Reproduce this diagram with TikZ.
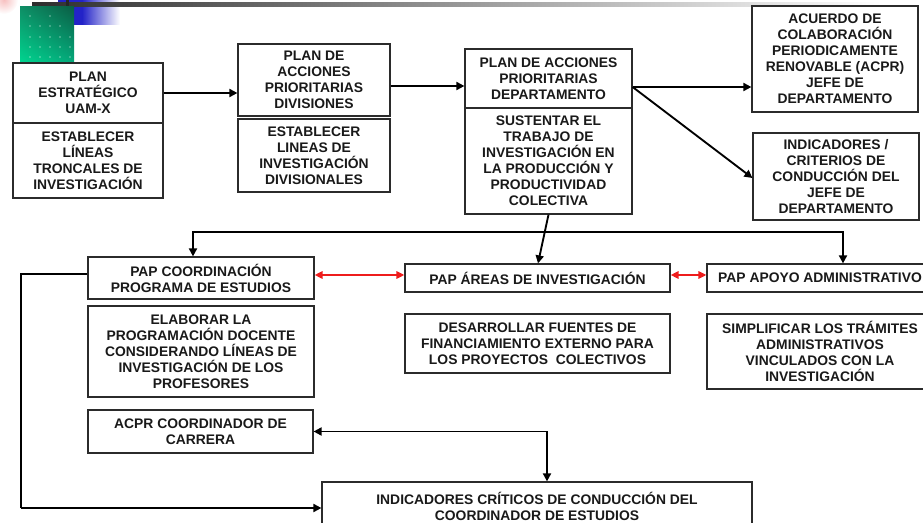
\documentclass[tikz,border=0pt]{standalone}
\usepackage{fontspec}
\setmainfont{Liberation Sans}
\usetikzlibrary{arrows.meta,calc,shadings}
\def\pxu{0.75pt}
\definecolor{bord}{HTML}{2B2B2B}
\definecolor{redarr}{HTML}{EE1C1C}
\definecolor{gbright}{HTML}{00D48F}
\definecolor{gdark}{HTML}{0A5E45}
\definecolor{gmidA}{HTML}{0E8F66}
\definecolor{gmidB}{HTML}{05A87A}
\definecolor{bluebk}{HTML}{2323C8}
\definecolor{pinkbk}{HTML}{F7C0C0}
\begin{document}
\begin{tikzpicture}[x=0.75pt,y=-0.75pt,
  box/.style={draw=bord, line width=0.9pt, inner sep=0pt, align=center,
    font=\fontsize{10.4}{12}\selectfont\bfseries, text=black!90},
  sz/.style 2 args={minimum width=#1*\pxu, minimum height=#2*\pxu},
  arr/.style={line width=1.4pt, -{Triangle[length=6pt,width=6pt]}},
  arrtwo/.style={line width=1.4pt, {Triangle[length=6pt,width=6pt]}-{Triangle[length=6pt,width=6pt]}},
  redarrow/.style={draw=redarr, line width=1.4pt,
    {Triangle[length=6pt,width=5.5pt]}-{Triangle[length=6pt,width=5.5pt]}},
  thinline/.style={line width=0.9pt},
  thickline/.style={line width=1.4pt, -{Triangle[length=6pt,width=6pt]}}
]
\useasboundingbox (0,0) rectangle (923,523);
\clip (0,0) rectangle (923,523);

% ---------- banner ----------
\shade[inner color=pinkbk, outer color=white] (4,0) circle (14);
\fill[bluebk] (58,0) rectangle (82,25);
\shade[left color=bluebk, right color=white] (82,0) rectangle (120,25);
\shade[left color=black!82, middle color=black!50, right color=white] (32,2.5) rectangle (880,6.5);
\fill[black!85] (66,0) rectangle (68.5,8);
\shade[lower left=gbright, upper right=gdark, upper left=gmidA, lower right=gmidB] (20,7) rectangle (74,62);
\foreach \xx in {30,50} \fill[white] (\xx,16) circle (0.7);
\foreach \xx in {30,40,50,60} \fill[white] (\xx,26) circle (0.7);
\foreach \yy in {37,47,57} \foreach \xx in {30,40,50,60,70} \fill[white] (\xx,\yy) circle (0.7);

% ---------- top row ----------
\node[box, sz={150}{60}] (b1t) at (88,93) {PLAN\\ESTRATÉGICO\\UAM-X};
\node[box, sz={150}{75}] (b1b) at (88,160.5) {ESTABLECER\\LÍNEAS\\TRONCALES DE\\INVESTIGACIÓN};
\node[box, sz={152}{72}] (b2t) at (314,80) {PLAN DE\\ACCIONES\\PRIORITARIAS\\DIVISIONES};
\node[box, sz={152}{73}] (b2b) at (314,155.5) {ESTABLECER\\LINEAS DE\\INVESTIGACIÓN\\DIVISIONALES};
\node[box, sz={167}{59}] (b3t) at (548.5,78.5) {PLAN DE ACCIONES\\PRIORITARIAS\\DEPARTAMENTO};
\node[box, sz={167}{106}] (b3b) at (548.5,161) {SUSTENTAR EL\\TRABAJO DE\\INVESTIGACIÓN EN\\LA PRODUCCIÓN Y\\PRODUCTIVIDAD\\COLECTIVA};
\node[box, sz={166}{106}] (acpr) at (835,59) {ACUERDO DE\\COLABORACIÓN\\PERIODICAMENTE\\RENOVABLE (ACPR)\\JEFE DE\\DEPARTAMENTO};
\node[box, sz={166}{87}] (ind) at (836,176.5) {INDICADORES /\\CRITERIOS DE\\CONDUCCIÓN DEL\\JEFE DE\\DEPARTAMENTO};

% ---------- middle row ----------
\node[box, sz={226}{42}] (coord) at (201,278) {PAP COORDINACIÓN\\PROGRAMA DE ESTUDIOS};
\node[box, sz={226}{91}] (elab) at (201,351.5) {ELABORAR LA\\PROGRAMACIÓN DOCENTE\\CONSIDERANDO LÍNEAS DE\\INVESTIGACIÓN DE LOS\\PROFESORES};
\node[box, sz={265}{28}] (areas) at (537.5,278) {PAP ÁREAS DE INVESTIGACIÓN};
\node[box, sz={265}{59}] (desa) at (537.5,343.5) {DESARROLLAR FUENTES DE\\FINANCIAMIENTO EXTERNO PARA\\LOS PROYECTOS \ COLECTIVOS};
\node[box, sz={226}{28}] (apoyo) at (820,278) {PAP APOYO ADMINISTRATIVO};
\node[box, sz={226}{75}] (simp) at (820,351.5) {SIMPLIFICAR LOS TRÁMITES\\ADMINISTRATIVOS\\VINCULADOS CON LA\\INVESTIGACIÓN};

% ---------- bottom ----------
\node[box, sz={225}{43}] (acprc) at (200.5,431.5) {ACPR COORDINADOR DE\\CARRERA};
\node[box, sz={430}{48}] (ind2) at (537,506) {INDICADORES CRÍTICOS DE CONDUCCIÓN DEL\\COORDINADOR DE ESTUDIOS};

% ---------- connectors ----------
\draw[arr] (b1t.east) -- (b1t.east -| b2t.west);
\coordinate (p2) at ($(b2t.east)+(0,6)$);
\draw[arr] (p2) -- (p2 -| b3t.west);
\coordinate (p3) at ($(b3t.east)+(0,8.5)$);
\draw[arr] (p3) -- (p3 -| acpr.west);
\coordinate (q3) at ($(ind.west)+(0,1.5)$);
\draw[arr] (p3) -- (q3);

\coordinate (hl) at (193,232);
\coordinate (hr) at (843,232);
\draw[arrtwo] (hl |- coord.north) -- (hl) -- (hr) -- (hr |- apoyo.north);
\draw[arr] (b3b.south) -- ($(areas.north)+(0.5,0)$);

\coordinate (r1) at ($(coord.east)+(0,-3)$);
\draw[redarrow] (r1) -- (r1 -| areas.west);
\coordinate (r2) at ($(areas.east)+(0,-3)$);
\draw[redarrow] (r2) -- (r2 -| apoyo.west);

\coordinate (l0) at ($(coord.west)+(0,-4)$);
\coordinate (lc) at (21,508);
\draw[thinline] (l0) -| (lc);
\draw[thickline] (lc) -- (lc -| ind2.west);

\coordinate (a2) at (547,431.5);
\draw[arrtwo] (acprc.east) -- (a2) -- (a2 |- ind2.north);
\end{tikzpicture}
\end{document}
